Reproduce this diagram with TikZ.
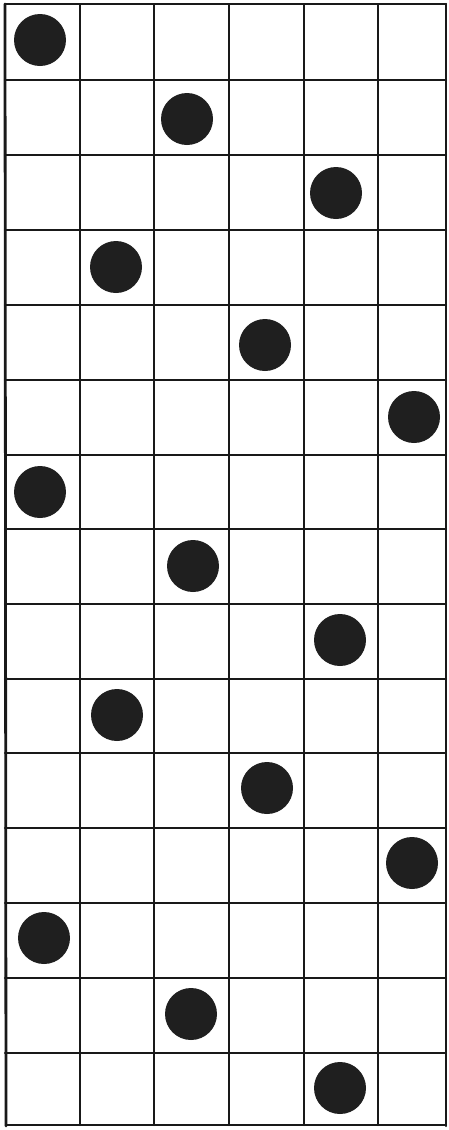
\documentclass[tikz,border=0pt]{standalone}
\begin{document}
\begin{tikzpicture}[x=1pt,y=-1pt,
  gridline/.style={line width=2.2pt,color=black!90,line cap=round},
  dot/.style={circle,fill=black!88,draw=none,minimum size=52pt,inner sep=0pt}]
\useasboundingbox (0,0) rectangle (449,1130);
\fill[white] (0,0) rectangle (449,1130);
% vertical lines
\foreach \x in {80,154,229,304,378}
  \draw[gridline] (\x,5) -- (\x,1125);
\draw[gridline,line width=2.8pt] (5,4) -- (6,1126);
\draw[gridline] (446,4) -- (446,1126);
% horizontal lines
\foreach \y in {80,155,230,305,380,455,529,604,679,753,828,903,978,1053}
  \draw[gridline] (5,\y) -- (446,\y);
\draw[gridline] (5,4) -- (446,4);
\draw[gridline] (6,1125) -- (446,1125);
% dots
\node[dot] (d1) at (40,40) {};
\node[dot] (d2) at (187,119) {};
\node[dot] (d3) at (336,193) {};
\node[dot] (d4) at (116,267) {};
\node[dot] (d5) at (265,345) {};
\node[dot] (d6) at (414,417) {};
\node[dot] (d7) at (40,492) {};
\node[dot] (d8) at (193,566) {};
\node[dot] (d9) at (340,640) {};
\node[dot] (d10) at (117,715) {};
\node[dot] (d11) at (267,788) {};
\node[dot] (d12) at (412,863) {};
\node[dot] (d13) at (44,938) {};
\node[dot] (d14) at (191,1014) {};
\node[dot] (d15) at (340,1088) {};
\end{tikzpicture}
\end{document}
